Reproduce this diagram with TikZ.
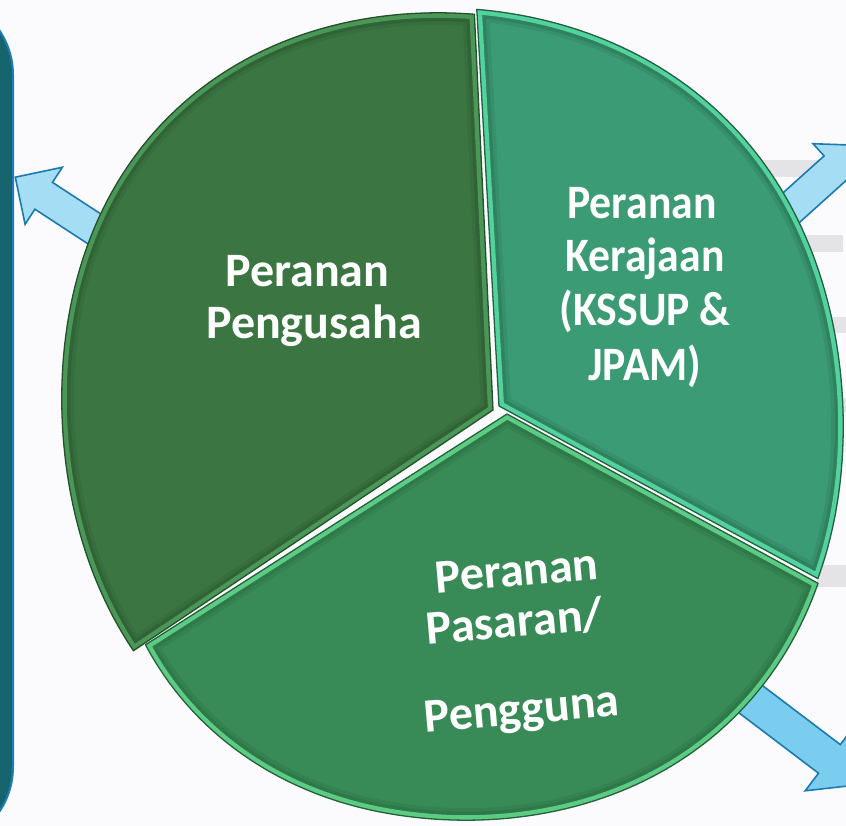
\documentclass[tikz,border=0pt]{standalone}
\usepackage{fontspec}
\setmainfont{Carlito}
\definecolor{bgc}{HTML}{FBFAFD}
\definecolor{barc}{HTML}{E4E3E6}
\definecolor{panelfill}{HTML}{16646E}
\definecolor{panelline}{HTML}{1E7DB5}
\definecolor{arrowline}{HTML}{1B7AB0}
\definecolor{arrowfillA}{HTML}{A4DDF4}
\definecolor{arrowfillB}{HTML}{7BCDF0}
\definecolor{fillA}{HTML}{3A7542}
\definecolor{rimA}{HTML}{4B9757}
\definecolor{edgeA}{HTML}{24502B}
\definecolor{fillB}{HTML}{3A9B74}
\definecolor{rimB}{HTML}{52D39C}
\definecolor{edgeB}{HTML}{245F45}
\definecolor{fillC}{HTML}{388A56}
\definecolor{rimC}{HTML}{5CCB84}
\definecolor{edgeC}{HTML}{25613A}
\def\slicePengusaha{(493,410) -- plot[domain=273.2:143.5, samples=90] ({452+pier(\x)*cos(\x)},{415+pier(\x)*sin(\x)}) -- cycle}
\def\sliceKerajaan{(499,406) -- plot[domain=273.4:384.8, samples=90] ({453+pier(\x)*cos(\x)},{410+pier(\x)*sin(\x)}) -- cycle}
\def\slicePasaran{(507,414) -- plot[domain=24.3:143.5, samples=90] ({452+piec(\x)*cos(\x)},{418+piec(\x)*sin(\x)}) -- cycle}
\newcommand\bevelslice[4]{%
  \fill[#2] #1;
  \begin{scope}
    \clip #1;
    \draw[#4, line width=24pt, opacity=0.18] #1;
    \draw[#4, line width=17pt, opacity=0.30] #1;
    \draw[#3, line width=10pt] #1;
  \end{scope}
  \draw[#4, line width=1.3pt, line join=round] #1;
}
\tikzset{
  lbl/.style={text=white, font=\bfseries\fontsize{48}{52}\selectfont, inner sep=0pt, anchor=base},
  barbox/.style={fill=barc},
  blockarrow/.style={draw=arrowline, line width=1.6pt, line join=miter},
  sidepanel/.style={fill=panelfill, draw=panelline, line width=2pt, rounded corners=80pt}
}
\begin{document}
\begin{tikzpicture}[x=1pt,y=-1pt,
  declare function={pier(\t)=400.4-6*cos(2*\t)+6.25*sin(2*\t)-4.4*cos(4*\t);
                    piec(\t)=pier(\t)-15*(max(0,\t-100)/43.5)^2;}]
\useasboundingbox (0,0) rectangle (846,826);
\clip (0,0) rectangle (846,826);
\fill[bgc] (0,0) rectangle (846,826);
% faint background bars on the right
\fill[barbox] (756,160) rectangle (846,177);
\fill[barbox] (797,235) rectangle (843,252);
\fill[barbox] (827,317) rectangle (846,333);
\fill[barbox] (836,398) rectangle (846,413);
\fill[barbox] (817,565) rectangle (846,587);
% left panel
\draw[sidepanel] (-300,-5) rectangle (13,847);
% block arrows (behind the pie)
\draw[blockarrow, fill=arrowfillA] (131.2,233.8) -- (52.5,182.4) -- (62.3,167.3) -- (15.3,177.2) -- (25.1,224.3) -- (34.9,209.2) -- (113.6,260.6) -- cycle;
\draw[blockarrow, fill=arrowfillA] (752.4,220.4) -- (824.1,155.9) -- (813.0,143.7) -- (860.4,145.4) -- (857.2,192.7) -- (846.1,180.5) -- (774.4,245.0) -- cycle;
\draw[blockarrow, fill=arrowfillB] (737.5,666.6) -- (840.3,744.6) -- (853.6,727.0) -- (862.9,784.3) -- (805.2,790.8) -- (818.5,773.2) -- (715.7,695.2) -- cycle;
% pie slices
\bevelslice{\slicePengusaha}{fillA}{rimA}{edgeA}
\bevelslice{\sliceKerajaan}{fillB}{rimB}{edgeB}
\bevelslice{\slicePasaran}{fillC}{rimC}{edgeC}
% labels
\node[lbl] (t1a) at (307.5,287) {Peranan};
\node[lbl] (t1b) at (314,338) {Pengusaha};
\node[lbl] (t2a) at (642,219) {\scalebox{0.91}[1]{Peranan}};
\node[lbl] (t2b) at (645,272) {\scalebox{0.91}[1]{Kerajaan}};
\node[lbl] (t2c) at (645,326) {\scalebox{0.91}[1]{(KSSUP \&}};
\node[lbl] (t2d) at (645,380) {\scalebox{0.91}[1]{JPAM)}};
\node[lbl, rotate=5] (t3a) at (518,586) {Peranan};
\node[lbl, rotate=5] (t3b) at (516,637) {Pasaran/};
\node[lbl, rotate=5] (t3c) at (523,724) {Pengguna};
\end{tikzpicture}
\end{document}
